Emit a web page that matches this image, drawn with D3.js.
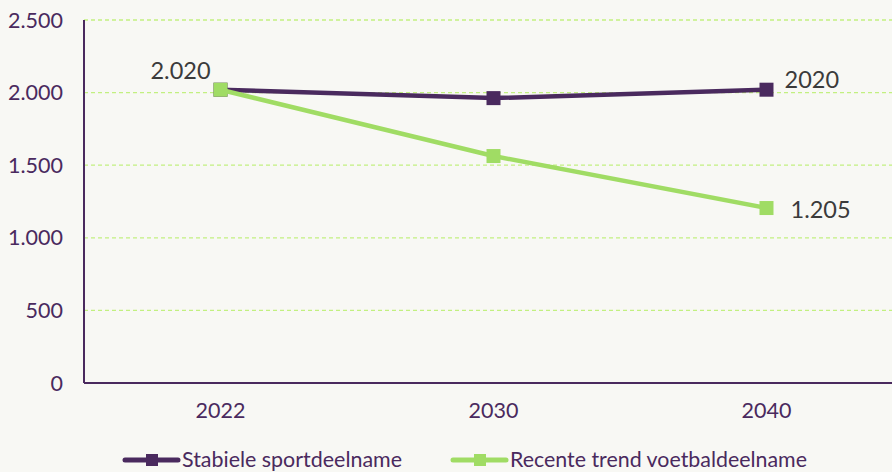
<!DOCTYPE html>
<html>
<head>
<meta charset="utf-8">
<script src="https://cdn.jsdelivr.net/npm/d3@7"></script>
<style>
  body { margin: 0; background: #f8f8f4; }
  svg { display: block; font-family: Lato, "Open Sans", sans-serif; }
</style>
</head>
<body>
<svg id="chart" width="892" height="472"></svg>
<script>
// chart data
const years = ['2022', '2030', '2040'];
const stabiel = [2020, 1962, 2020];
const trend = [2020, 1563, 1205];
const yTicks = [0, 500, 1000, 1500, 2000, 2500];
const seriesNames = ['Stabiele sportdeelname', 'Recente trend voetbaldeelname'];

const purple = '#4a2a5e';
const green = '#a0dc64';
const labelColor = '#3b3b3b';

const svg = d3.select('#chart');
const margin = { top: 20, left: 84, bottom: 89 };
const plotW = 273 * 3;
const height = 472 - margin.top - margin.bottom;

const x = d3.scaleBand().domain(years).range([margin.left, margin.left + plotW]);
const y = d3.scaleLinear().domain([0, 2500]).range([margin.top + height, margin.top]);
const cx = i => x(years[i]) + x.bandwidth() / 2;

// grid lines
svg.append('g')
  .selectAll('line')
  .data(yTicks.filter(d => d > 0))
  .enter()
  .append('line')
  .attr('x1', margin.left)
  .attr('x2', 892)
  .attr('y1', d => y(d))
  .attr('y2', d => y(d))
  .attr('stroke', '#c2f080')
  .attr('stroke-width', 1.3)
  .attr('stroke-dasharray', '4,3');

// y axis labels
svg.append('g')
  .selectAll('text')
  .data(yTicks)
  .enter()
  .append('text')
  .attr('x', 63)
  .attr('y', d => y(d))
  .attr('dy', '0.35em')
  .attr('text-anchor', 'end')
  .attr('fill', purple)
  .attr('font-size', 21.5)
  .text(d => d3.format(',')(d).replace(/,/g, '.'));

// axis lines
svg.append('line')
  .attr('x1', margin.left).attr('x2', margin.left)
  .attr('y1', y(2500)).attr('y2', y(0))
  .attr('stroke', purple).attr('stroke-width', 2);
svg.append('line')
  .attr('x1', margin.left).attr('x2', 892)
  .attr('y1', y(0)).attr('y2', y(0))
  .attr('stroke', purple).attr('stroke-width', 2);

// x labels
svg.append('g')
  .selectAll('text')
  .data(years)
  .enter()
  .append('text')
  .attr('x', (d, i) => cx(i))
  .attr('y', 418)
  .attr('text-anchor', 'middle')
  .attr('fill', purple)
  .attr('font-size', 21.5)
  .text(d => d);

const line = d3.line()
  .x((d, i) => cx(i))
  .y(d => y(d));

function drawSeries(values, color) {
  svg.append('path')
    .datum(values)
    .attr('d', line)
    .attr('fill', 'none')
    .attr('stroke', color)
    .attr('stroke-width', 4.5)
    .attr('stroke-linejoin', 'round');
  svg.append('g')
    .selectAll('rect')
    .data(values)
    .enter()
    .append('rect')
    .attr('x', (d, i) => cx(i) - 7)
    .attr('y', d => y(d) - 7)
    .attr('width', 14)
    .attr('height', 14)
    .attr('fill', color);
}

drawSeries(stabiel, purple);
drawSeries(trend, green);

// data labels
svg.append('text')
  .attr('x', cx(0) - 40).attr('y', y(trend[0]) - 19)
  .attr('dy', '0.35em').attr('text-anchor', 'middle')
  .attr('fill', labelColor).attr('font-size', 23.5)
  .text('2.020');
svg.append('text')
  .attr('x', cx(2) + 18).attr('y', y(stabiel[2]) - 10)
  .attr('dy', '0.35em')
  .attr('fill', labelColor).attr('font-size', 23.5)
  .text('2020');
svg.append('text')
  .attr('x', cx(2) + 24).attr('y', y(trend[2]) + 2)
  .attr('dy', '0.35em')
  .attr('fill', labelColor).attr('font-size', 23.5)
  .text('1.205');

// legend
const legend = [
  { name: seriesNames[0], color: purple, x: 125 },
  { name: seriesNames[1], color: green, x: 453 }
];
const lg = svg.append('g').selectAll('g').data(legend).enter().append('g')
  .attr('transform', d => `translate(${d.x},460)`);
lg.append('line')
  .attr('x1', 0).attr('x2', 53)
  .attr('stroke', d => d.color).attr('stroke-width', 5)
  .attr('stroke-linecap', 'round');
lg.append('rect')
  .attr('x', 21).attr('y', -6).attr('width', 12).attr('height', 12)
  .attr('fill', d => d.color);
lg.append('text')
  .attr('x', 57).attr('dy', '0.33em')
  .attr('fill', purple).attr('font-size', 21)
  .attr('textLength', d => d.x === 125 ? 220 : 297)
  .attr('lengthAdjust', 'spacingAndGlyphs')
  .text(d => d.name);
</script>
</body>
</html>
